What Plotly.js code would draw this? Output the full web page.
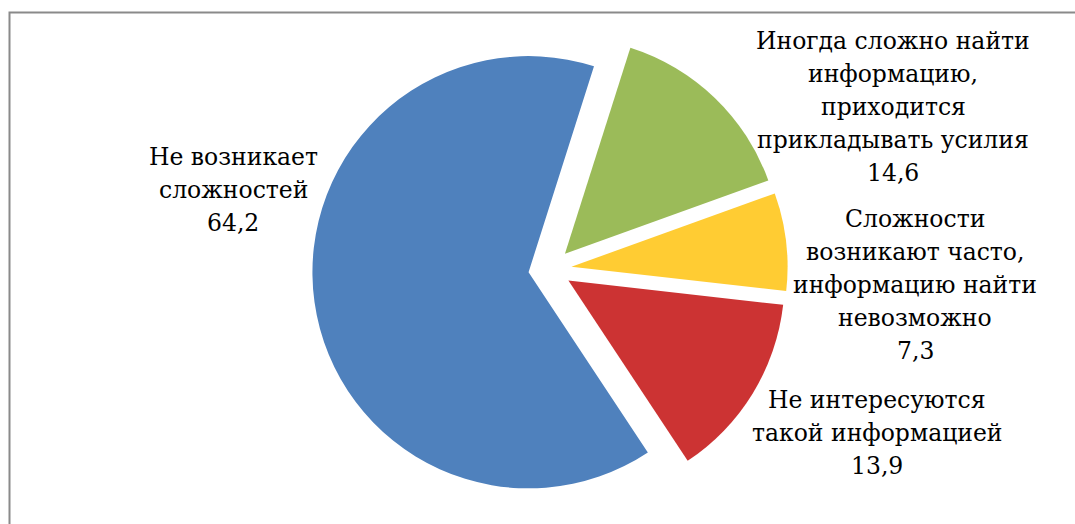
<!DOCTYPE html>
<html>
<head>
<meta charset="utf-8">
<script src="https://cdn.plot.ly/plotly-3.0.1.min.js"></script>
<style>
  html, body { margin: 0; padding: 0; background: #fff; }
  #chart { width: 1075px; height: 524px; }
</style>
</head>
<body>
<div id="chart"></div>
<script>
// Data
const categories = [
  "Не возникает<br>сложностей",
  "Иногда сложно найти<br>информацию,<br>приходится<br>прикладывать усилия",
  "Сложности<br>возникают часто,<br>информацию найти<br>невозможно",
  "Не интересуются<br>такой информацией"
];
const values = [64.2, 14.6, 7.3, 13.9];
const colors = ["#4F81BD", "#9BBB59", "#FFCC33", "#CC3333"];

// Layout helpers
const W = 1075, H = 524;
const labelPos = [[233, 190], [893, 107], [915, 285], [877, 433]];
const lineStep = 33;
const labelFont = { family: 'DejaVu Serif', size: 23.5, color: '#000' };

const fmt = v => String(v).replace('.', ',');

const trace = {
  type: 'pie',
  labels: categories,
  values: values,
  sort: false,
  direction: 'clockwise',
  rotation: 146.5,
  pull: [0.1, 0.1, 0.1, 0.1],
  marker: { colors: colors, line: { width: 0 } },
  textinfo: 'none',
  hoverinfo: 'label+value',
  showlegend: false,
  domain: { x: [0.2616, 0.7616], y: [1 - 507 / H, 1 - 31.5 / H] }
};

const annotations = [];
categories.forEach((c, i) => {
  const lines = c.split('<br>').concat([fmt(values[i])]);
  const n = lines.length;
  lines.forEach((ln, j) => {
    const py = labelPos[i][1] + (j - (n - 1) / 2) * lineStep;
    annotations.push({
      xref: 'paper', yref: 'paper',
      x: labelPos[i][0] / W,
      y: 1 - py / H,
      xanchor: 'center', yanchor: 'middle',
      showarrow: false,
      text: ln,
      font: labelFont
    });
  });
});

const layout = {
  width: W, height: H,
  margin: { l: 0, r: 0, t: 0, b: 0 },
  paper_bgcolor: '#fff',
  plot_bgcolor: '#fff',
  showlegend: false,
  annotations: annotations,
  shapes: [{
    type: 'rect', xref: 'paper', yref: 'paper',
    x0: 9.5 / W, x1: 1.02, y0: -0.05, y1: 1 - 12.5 / H,
    line: { color: '#8a8a8a', width: 2 },
    fillcolor: 'rgba(0,0,0,0)',
    layer: 'below'
  }]
};

Plotly.newPlot('chart', [trace], layout, { displayModeBar: false, staticPlot: true });
</script>
</body>
</html>
